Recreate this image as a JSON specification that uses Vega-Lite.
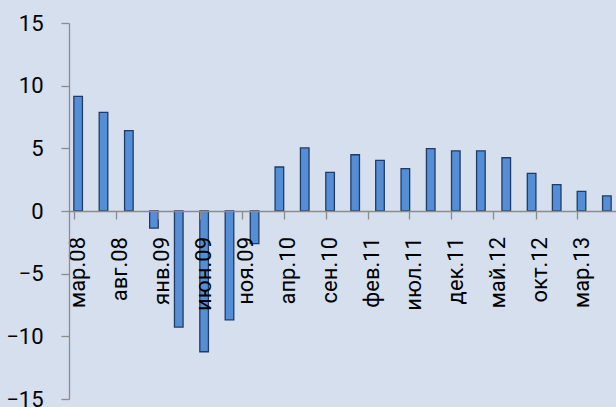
{
  "$schema": "https://vega.github.io/schema/vega-lite/v6.json",
  "autosize": {"type": "none"},
  "padding": {"left": 69, "top": 23, "right": 0, "bottom": 8},
  "width": 547,
  "height": 376,
  "background": "#D5DFEE",
  "config": {
    "view": {"stroke": null},
    "font": "Roboto",
    "axis": {"labelFont": "Roboto", "labelFontSize": 22, "labelColor": "#000000", "domainColor": "#8C8C8C", "tickColor": "#8C8C8C", "domainWidth": 1.3, "tickWidth": 1.3, "grid": false, "title": null}
  },
  "datasets": {
    "series": [
      {"date": "2008-03-16", "value": 9.15},
      {"date": "2008-06-16", "value": 7.87},
      {"date": "2008-09-16", "value": 6.41},
      {"date": "2008-12-16", "value": -1.36},
      {"date": "2009-03-16", "value": -9.26},
      {"date": "2009-06-16", "value": -11.23},
      {"date": "2009-09-16", "value": -8.68},
      {"date": "2009-12-16", "value": -2.61},
      {"date": "2010-03-16", "value": 3.51},
      {"date": "2010-06-16", "value": 5.03},
      {"date": "2010-09-16", "value": 3.08},
      {"date": "2010-12-16", "value": 4.49},
      {"date": "2011-03-16", "value": 4.04},
      {"date": "2011-06-16", "value": 3.38},
      {"date": "2011-09-16", "value": 4.97},
      {"date": "2011-12-16", "value": 4.79},
      {"date": "2012-03-16", "value": 4.79},
      {"date": "2012-06-16", "value": 4.25},
      {"date": "2012-09-16", "value": 3.0},
      {"date": "2012-12-16", "value": 2.1},
      {"date": "2013-03-16", "value": 1.57},
      {"date": "2013-06-16", "value": 1.2}
    ],
    "labels": [
      {"date": "2008-03-16", "label": "мар.08"},
      {"date": "2008-08-16", "label": "авг.08"},
      {"date": "2009-01-16", "label": "янв.09"},
      {"date": "2009-06-16", "label": "июн.09"},
      {"date": "2009-11-16", "label": "ноя.09"},
      {"date": "2010-04-16", "label": "апр.10"},
      {"date": "2010-09-16", "label": "сен.10"},
      {"date": "2011-02-16", "label": "фев.11"},
      {"date": "2011-07-16", "label": "июл.11"},
      {"date": "2011-12-16", "label": "дек.11"},
      {"date": "2012-05-16", "label": "май.12"},
      {"date": "2012-10-16", "label": "окт.12"},
      {"date": "2013-03-16", "label": "мар.13"}
    ]
  },
  "layer": [
    {
      "data": {"name": "series"},
      "mark": {"type": "bar", "width": 8.6, "fill": "#558ED5", "stroke": "#1F3B66", "strokeWidth": 1.3},
      "encoding": {
        "x": {
          "field": "date",
          "type": "temporal",
          "scale": {"domain": [{"year": 2008, "month": 3, "date": 1}, {"year": 2013, "month": 7, "date": 1}]},
          "axis": {
            "orient": "bottom",
            "offset": -188,
            "values": [
              {"year": 2008, "month": 3, "date": 16},
              {"year": 2008, "month": 8, "date": 16},
              {"year": 2009, "month": 1, "date": 16},
              {"year": 2009, "month": 6, "date": 16},
              {"year": 2009, "month": 11, "date": 16},
              {"year": 2010, "month": 4, "date": 16},
              {"year": 2010, "month": 9, "date": 16},
              {"year": 2011, "month": 2, "date": 16},
              {"year": 2011, "month": 7, "date": 16},
              {"year": 2011, "month": 12, "date": 16},
              {"year": 2012, "month": 5, "date": 16},
              {"year": 2012, "month": 10, "date": 16},
              {"year": 2013, "month": 3, "date": 16}
            ],
            "labels": false,
            "tickSize": 8,
            "tickOffset": -4.3,
            "zindex": 1
          }
        },
        "y": {
          "field": "value",
          "type": "quantitative",
          "scale": {"domain": [-15, 15], "nice": false, "zero": false},
          "axis": {"values": [-15, -10, -5, 0, 5, 10, 15], "tickSize": 8, "labelPadding": 18, "zindex": 1}
        }
      }
    },
    {
      "data": {"name": "labels"},
      "mark": {"type": "text", "angle": 270, "align": "right", "baseline": "middle", "dx": -26, "font": "Roboto", "fontSize": 22, "color": "#000000"},
      "encoding": {
        "x": {"field": "date", "type": "temporal"},
        "y": {"datum": 0, "type": "quantitative"},
        "text": {"field": "label"}
      }
    }
  ]
}
